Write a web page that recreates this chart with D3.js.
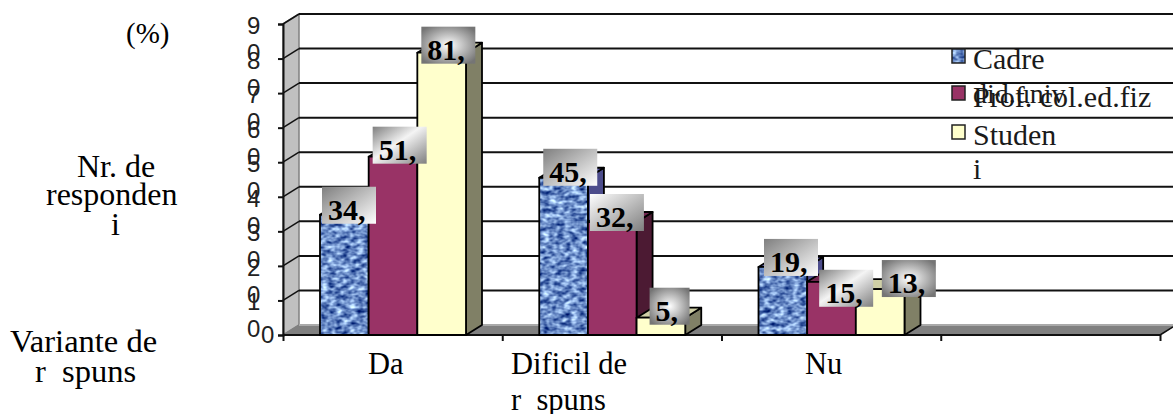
<!DOCTYPE html>
<html><head><meta charset="utf-8">
<script src="https://cdn.jsdelivr.net/npm/d3@7"></script>
<style>
html,body{margin:0;padding:0;background:#fff;overflow:hidden}
text{font-family:"Liberation Serif",serif;font-size:30px;fill:#000;white-space:pre}
</style></head><body><div id="c"></div>
<script>
const categories = [["Da"],["Dificil de","r  spuns"],["Nu"]];
const seriesNames = ["Cadre did.univ","Prof. col.ed.fiz","Studenți"];
const cadre = [34.8,45.5,19.7];
const prof = [51.6,32.7,15.4];
const studenti = [81.7,5,13.3];
const cadreLabels = ["34,","45,","19,"];
const profLabels = ["51,","32,","15,"];
const studentiLabels = ["81,","5,","13,"];
const yTicks = [0,10,20,30,40,50,60,70,80,90];

const W=1173,H=414;
const svg=d3.select("#c").append("svg").attr("width",W).attr("height",H).style("display","block");
const defs=svg.append("defs");

const depthX=16, depthY=-10;
const y=d3.scaleLinear().domain([0,90]).range([335,24]);
const xAxisScale=d3.scaleLinear().domain([0,4]).range([283,1160]);
const x0=d3.scaleBand().domain(d3.range(4)).range([283,1160]);
const x1=d3.scaleBand().domain(d3.range(3)).range([37,183]);

// gradients
function lin(id,x1_,y1_,x2_,y2_,stops){
  const g=defs.append("linearGradient").attr("id",id).attr("x1",x1_).attr("y1",y1_).attr("x2",x2_).attr("y2",y2_);
  stops.forEach(s=>g.append("stop").attr("offset",s[0]).attr("stop-color",s[1]));
}
lin("gA",0,0,1,1,[[0,"#7f7f7f"],[1,"#ffffff"]]);
lin("gB",0,0,1,1,[[0,"#ffffff"],[1,"#7f7f7f"]]);
lin("gD",0,0,1,1,[[0,"#7f7f7f"],[.45,"#f4f4f4"],[1,"#7f7f7f"]]);
const rg=defs.append("radialGradient").attr("id","gR").attr("r",.62);
rg.append("stop").attr("offset",0).attr("stop-color","#ffffff");
rg.append("stop").attr("offset",1).attr("stop-color","#757575");

// mottled fabric fill for first series
const f=defs.append("filter").attr("id","tex").attr("x",0).attr("y",0).attr("width",1).attr("height",1).attr("color-interpolation-filters","sRGB");
f.append("feTurbulence").attr("type","fractalNoise").attr("baseFrequency","0.14 0.22").attr("numOctaves",2).attr("seed",4).attr("result","n");
f.append("feColorMatrix").attr("in","n").attr("type","matrix")
 .attr("values","1.3 0 0 0 -0.23  1.3 0 0 0 -0.1  1.0 0 0 0 0.28  0 0 0 0 1").attr("result","c");
f.append("feComposite").attr("in","c").attr("in2","SourceAlpha").attr("operator","in");

const g=svg.append("g");
// left wall
const wallTop=y(90)+depthY;
g.append("polygon").attr("points",[[283,y(0)],[283+depthX,y(0)+depthY],[283+depthX,wallTop],[283,y(90)]].join(" "))
 .attr("fill","#c0c0c0").attr("stroke","#808080").attr("stroke-width",1.5);
// floor
g.append("polygon").attr("points",[[283,y(0)],[283+depthX,y(0)+depthY],[1160+depthX,y(0)+depthY],[1160,y(0)]].join(" "))
 .attr("fill","#808080").attr("stroke","#808080");
g.append("line").attr("x1",299).attr("x2",W).attr("y1",y(0)+depthY).attr("y2",y(0)+depthY).attr("stroke","#aaa").attr("stroke-width",2);
// gridlines
yTicks.filter(d=>d>0).forEach(t=>{
  g.append("line").attr("x1",283+depthX).attr("x2",W).attr("y1",y(t)+depthY).attr("y2",y(t)+depthY)
   .attr("stroke","#111").attr("stroke-width",2);
  g.append("line").attr("x1",283).attr("x2",283+depthX).attr("y1",y(t)).attr("y2",y(t)+depthY)
   .attr("stroke","#111").attr("stroke-width",1.5);
});
// axes (ticks only)
const ay=d3.axisLeft(y).tickValues(yTicks).tickSize(5).tickFormat("");
const ax=d3.axisBottom(xAxisScale).ticks(4).tickSize(6).tickFormat("");
const gy=g.append("g").attr("transform","translate(283,0)").call(ay);
const gx=g.append("g").attr("transform","translate(0,"+y(0)+")").call(ax);
[gy,gx].forEach(s=>{s.selectAll("path,line").attr("stroke","#111").attr("stroke-width",2);});
gx.select("path").attr("d","M283,0H1160");
g.append("line").attr("x1",1160).attr("x2",W).attr("y1",335).attr("y2",335-(W-1160)*10/16).attr("stroke","#111").attr("stroke-width",1.5);

// bars
const series=[
 {v:cadre,l:cadreLabels,front:"#6f8fc8",side:"#4d4d8c",top:"#5a5aa0",tex:true},
 {v:prof,l:profLabels,front:"#993366",side:"#4c1a33",top:"#732650"},
 {v:studenti,l:studentiLabels,front:"#ffffcc",side:"#808066",top:"#cfcfa6"}
];
const bw=x1.bandwidth();
categories.forEach((c,i)=>{
  series.forEach((s,j)=>{
    const xx=x0(i)+x1(j), t=y(s.v[i]), b=y(0);
    const bar=g.append("g").attr("stroke","#000").attr("stroke-width",1.8).attr("stroke-linejoin","round");
    bar.append("polygon").attr("points",[[xx+bw,t],[xx+bw+depthX,t+depthY],[xx+bw+depthX,b+depthY],[xx+bw,b]].join(" ")).attr("fill",s.side);
    bar.append("polygon").attr("points",[[xx,t],[xx+depthX,t+depthY],[xx+bw+depthX,t+depthY],[xx+bw,t]].join(" ")).attr("fill",s.top);
    if(s.tex){
      bar.append("rect").attr("x",xx).attr("y",t).attr("width",bw).attr("height",b-t).attr("fill",s.front).attr("stroke","none").attr("filter","url(#tex)");
      bar.append("rect").attr("x",xx).attr("y",t).attr("width",bw).attr("height",b-t).attr("fill","none");
    } else {
      bar.append("rect").attr("x",xx).attr("y",t).attr("width",bw).attr("height",b-t).attr("fill",s.front);
    }
  });
});

// value labels
const boxOffsets={
  dx:[[2,4,5.5],[4,2,12],[4,13,26]],
  dy:[[-28,-29,-28],[-30,-28,-12],[-26,-30,-29]],
  grad:[["gA","gA","gA"],["gD","gB","gD"],["gR","gR","gR"]]
};
series.forEach((s,j)=>{
  categories.forEach((c,i)=>{
    const bx=x0(i)+x1(j)+boxOffsets.dx[j][i], by=y(s.v[i])+boxOffsets.dy[j][i];
    const w=s.l[i].length===2?40:54;
    g.append("rect").attr("x",bx).attr("y",by).attr("width",w).attr("height",37).attr("fill","url(#"+boxOffsets.grad[j][i]+")");
    g.append("text").attr("x",bx+6).attr("y",by+33).style("font-weight","bold").text(s.l[i]);
  });
});

// y tick labels, wrapped digit by digit
const tickFont="'Liberation Sans',sans-serif";
yTicks.forEach(t=>{
  const str=String(t), yy=y(t)+10;
  if(t===0){
    g.append("text").attr("x",261).attr("y",y(0)+8).style("font-family",tickFont).style("font-size","24px").style("fill","#222").text(str);
    return;
  }
  str.split("").forEach((ch,k)=>{
    g.append("text").attr("x",247).attr("y",yy+k*27).style("font-family",tickFont).style("font-size","24px").style("fill","#222").text(ch);
  });
});

// category labels
const catX=[368,511,805];
categories.forEach((c,i)=>{
  c.forEach((line,k)=>g.append("text").attr("x",catX[i]).attr("y",374+k*36).style("font-size","30.5px").text(line));
});

// legend
const legY=[49,86,125];
const legFill=["#6f8fc8","#993366","#ffffcc"];
series.forEach((s,j)=>{
  const r=g.append("rect").attr("x",952).attr("y",legY[j]).attr("width",13).attr("height",14).attr("fill",legFill[j]);
  if(j===0) r.attr("filter","url(#tex)");
  g.append("rect").attr("x",952).attr("y",legY[j]).attr("width",13).attr("height",14).attr("fill","none").attr("stroke","#222").attr("stroke-width",1.5);
});
[["Cadre",69,30],["did.univ",103,28],["Prof. col.ed.fiz",107,30],["Studen",145,30],["i",179,30]].forEach(d=>{
  g.append("text").attr("x",973).attr("y",d[1]).style("fill","#1a1a1a").style("font-size",d[2]+"px").text(d[0]);
});

// free titles
[["(%)",126,43,29],["Nr. de",77,177,32],["responden",46,205,32],["i",111,235,32],["Variante de",10,352,32.5],["r  spuns",35,382,32.5]].forEach(d=>{
  g.append("text").attr("x",d[1]).attr("y",d[2]).style("font-size",d[3]+"px").text(d[0]);
});
</script></body></html>
